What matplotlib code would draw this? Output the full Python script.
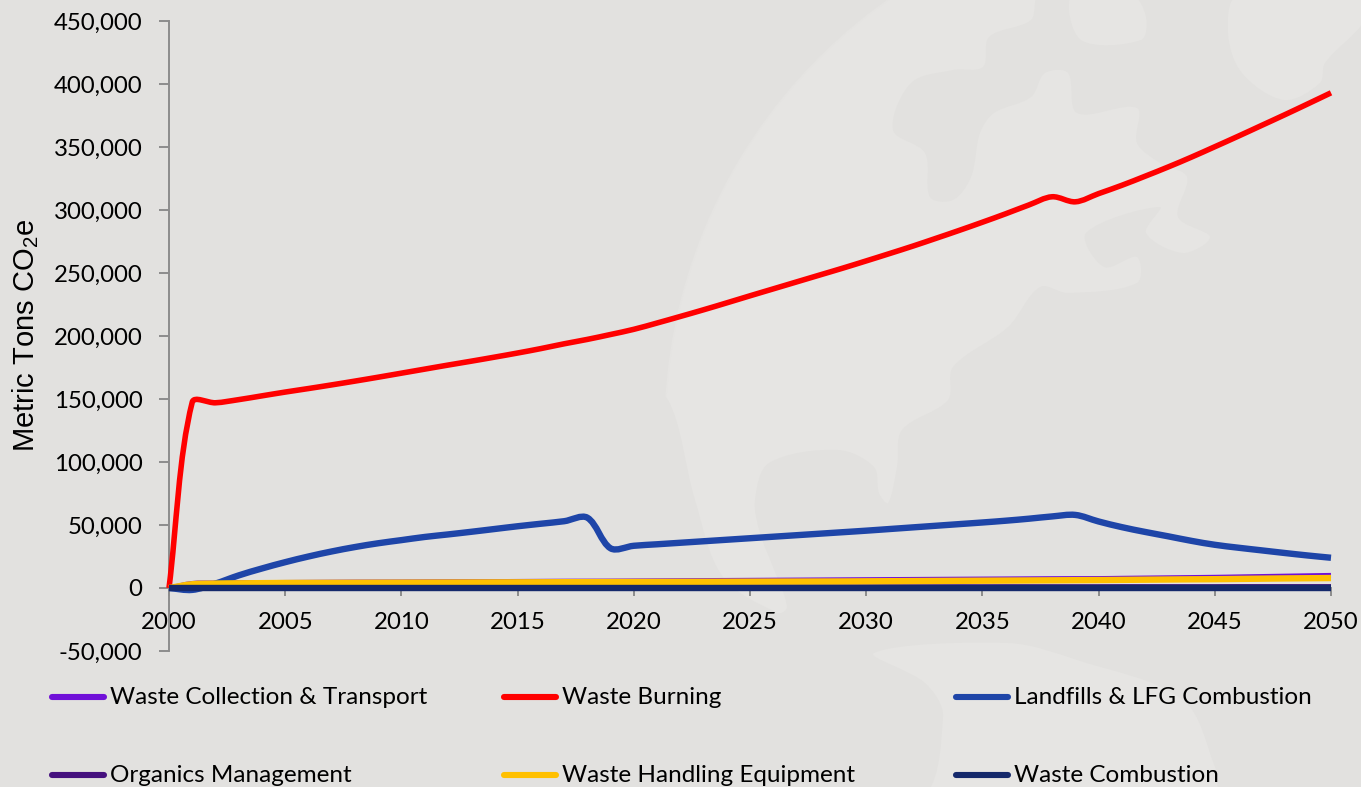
"""Waste sector emissions by source, 2000-2050."""
import numpy as np
import matplotlib
matplotlib.use("Agg")
import matplotlib.pyplot as plt
from matplotlib.lines import Line2D
from matplotlib.patches import Circle, PathPatch
from matplotlib.path import Path

plt.rcParams["font.family"] = ["Lato", "DejaVu Sans"]
plt.rcParams["mathtext.default"] = "regular"

years = list(range(2000, 2051))

waste_collection = [0, 3600, 4000, 4200, 4300, 4400, 4500, 4600, 4700, 4750,
                    4800, 4900, 5000, 5050, 5100, 5200, 5300, 5400, 5450, 5500,
                    5600, 5700, 5800, 5900, 6000, 6100, 6200, 6300, 6400, 6500,
                    6600, 6700, 6800, 6900, 7000, 7100, 7200, 7300, 7400, 7450,
                    7500, 7700, 7900, 8100, 8300, 8500, 8800, 9100, 9400, 9700, 10000]
waste_burning = [0, 147500, 147000, 149500, 152500, 155500, 158300, 161200, 164200, 167300,
                 170500, 173700, 176900, 180000, 183200, 186500, 190000, 193800, 197300, 201200,
                 205300, 210300, 215500, 220800, 226300, 231900, 237400, 242900, 248400, 253900,
                 259600, 265400, 271300, 277500, 283800, 290300, 297000, 304000, 310500, 306500,
                 313000, 319600, 326800, 334200, 342000, 350200, 358500, 367000, 375500, 384200, 393000]
landfills = [0, -1500, 3500, 10000, 15500, 20500, 25000, 29000, 32500, 35500,
             38000, 40500, 42500, 44600, 46800, 49000, 51000, 53000, 55800, 31500,
             33500, 34700, 35900, 37100, 38300, 39500, 40700, 41900, 43100, 44300,
             45500, 46800, 48100, 49400, 50700, 52000, 53400, 55000, 56800, 58000,
             52800, 48300, 44500, 41000, 37400, 34300, 32000, 29900, 27800, 25800, 24000]
organics = [0, 300, 350, 350, 400, 400, 400, 450, 450, 450,
            450, 500, 500, 500, 500, 500, 550, 550, 550, 550,
            550, 600, 600, 600, 600, 600, 650, 650, 650, 650,
            650, 700, 700, 700, 700, 700, 750, 750, 750, 750,
            750, 800, 800, 800, 800, 800, 850, 850, 850, 850, 850]
handling_equipment = [0, 3000, 3500, 3700, 3850, 4000, 4050, 4100, 4150, 4200,
                      4250, 4300, 4350, 4400, 4450, 4500, 4550, 4600, 4650, 4700,
                      4750, 4800, 4850, 4900, 4950, 5000, 5050, 5100, 5150, 5200,
                      5300, 5400, 5500, 5600, 5700, 5800, 5900, 6000, 6100, 6200,
                      6300, 6450, 6600, 6750, 6900, 7000, 7200, 7400, 7600, 7750, 7900]
waste_combustion = [0] * 51

series_names = ["Waste Collection & Transport", "Waste Burning", "Landfills & LFG Combustion",
                "Organics Management", "Waste Handling Equipment", "Waste Combustion"]
series_values = [waste_collection, waste_burning, landfills,
                 organics, handling_equipment, waste_combustion]
series_colors = ["#7010D8", "#FF0000", "#1E45A8", "#45107E", "#FFC000", "#15296B"]
series_widths = [3.6, 4.0, 4.6, 4.1, 4.6, 4.6]

y_ticks = list(range(-50000, 450001, 50000))
x_ticks = list(range(2000, 2051, 5))

BG = "#E2E1DF"
GLOBE = "#E6E5E3"
AXIS = "#8C8C8C"
PX_PER_YEAR = 1162 / 50
PX_PER_TON = 630 / 500000


def smooth_path(x, y, closed=False, sx=1.0, sy=1.0):
    """Spreadsheet style smoothing: control points scale with the chord, measured on screen."""
    pts = np.column_stack([x, y]).astype(float)
    if closed:
        pts = np.vstack([pts[-1], pts, pts[0], pts[1]])
    else:
        pts = np.vstack([pts[0], pts, pts[-1]])
    scale = np.array([sx, sy])
    verts = [pts[1]]
    codes = [Path.MOVETO]
    for i in range(1, len(pts) - 2):
        prev_d = np.linalg.norm((pts[i] - pts[i - 1]) * scale)
        this_d = np.linalg.norm((pts[i + 1] - pts[i]) * scale)
        next_d = np.linalg.norm((pts[i + 2] - pts[i + 1]) * scale)
        out_k = this_d / max(prev_d + this_d, 1e-9) / 3
        in_k = this_d / max(this_d + next_d, 1e-9) / 3
        verts.append(pts[i] + (pts[i + 1] - pts[i - 1]) * out_k)
        verts.append(pts[i + 1] - (pts[i + 2] - pts[i]) * in_k)
        verts.append(pts[i + 1])
        codes += [Path.CURVE4] * 3
    return Path(verts, codes)


fig = plt.figure(figsize=(13.61, 7.87), dpi=100, facecolor=BG)

# faint globe behind everything, drawn in pixel coordinates
bg = fig.add_axes([0, 0, 1, 1], zorder=0)
bg.set_xlim(0, 1361)
bg.set_ylim(787, 0)
bg.axis("off")
bg.add_patch(Circle((1191, 430), 526, fc=GLOBE, ec="#E5E4E2", lw=1))
ocean = [(1040, -5), (1031, 20), (989, 37), (983, 67), (953, 70), (911, 83), (893, 130),
         (925, 153), (930, 197), (953, 200), (971, 177), (980, 133), (994, 113), (1031, 97),
         (1045, 73), (1068, 73), (1077, 113), (1137, 108), (1137, 143), (1160, 163),
         (1187, 177), (1178, 217), (1210, 237), (1183, 253), (1146, 233), (1160, 207),
         (1086, 233), (1104, 267), (1137, 257), (1137, 283), (1068, 293), (1040, 287),
         (1008, 327), (953, 367), (948, 400), (902, 430), (897, 467), (888, 503), (879, 493),
         (874, 467), (838, 450), (769, 463), (755, 500), (760, 533), (773, 567), (787, 607),
         (778, 613), (723, 577), (695, 500), (668, 400), (640, 400), (640, 800), (916, 800),
         (943, 717), (925, 683), (874, 653), (1008, 643), (1077, 660), (1183, 700),
         (1215, 767), (1224, 800), (1370, 800), (1370, -5)]
bg.add_patch(PathPatch(smooth_path(*zip(*ocean), closed=True), fc=BG, ec="none"))
for land in ([(1072, -5), (1081, 40), (1141, 40), (1146, 17), (1132, -5)],
             [(1238, -5), (1228, 33), (1242, 73), (1284, 100), (1320, 83), (1325, 63),
              (1365, 20), (1365, -5)]):
    bg.add_patch(PathPatch(smooth_path(*zip(*land), closed=True), fc=GLOBE, ec="none"))

ax = fig.add_axes([169 / 1361, 1 - 651 / 787, 1162 / 1361, 630 / 787], zorder=1)
ax.patch.set_alpha(0)
ax.set_xlim(2000, 2050)
ax.set_ylim(-50000, 450000)

for values, color, width in zip(series_values, series_colors, series_widths):
    path = smooth_path(years, values, sx=PX_PER_YEAR, sy=PX_PER_TON)
    ax.add_patch(PathPatch(path, fill=False, edgecolor=color, lw=width,
                           capstyle="butt", joinstyle="round", clip_on=False, zorder=3))

ax.spines["top"].set_visible(False)
ax.spines["right"].set_visible(False)
ax.spines["left"].set_color(AXIS)
ax.spines["left"].set_linewidth(1.4)
ax.spines["bottom"].set_position(("data", 0))
ax.spines["bottom"].set_color(AXIS)
ax.spines["bottom"].set_linewidth(1.4)

ax.set_yticks(y_ticks)
ax.set_yticklabels([f"{v:,}" for v in y_ticks])
ax.set_xticks(x_ticks)
ax.tick_params(axis="y", length=7, width=1.4, color=AXIS, labelsize=17.3, pad=12)
ax.tick_params(axis="x", length=6, width=1.4, color=AXIS, labelsize=17.3, pad=11)

fig.text(26 / 1361, 1 - 335 / 787, "Metric Tons CO$_2$e", rotation=90, ha="center", va="center",
         family="Liberation Sans", fontsize=21)

# legend laid out by hand: the columns sit at fixed spots
handle_x = [52, 504, 956]
handle_y = [697, 775]
for i, (name, color) in enumerate(zip(series_names, series_colors)):
    x0 = handle_x[i % 3]
    y0 = handle_y[i // 3]
    fig.add_artist(Line2D([x0 / 1361, (x0 + 52) / 1361], [1 - y0 / 787, 1 - y0 / 787], color=color,
                          lw=4.4, solid_capstyle="round", zorder=2))
    fig.text((x0 + 58) / 1361, 1 - (y0 + 1) / 787, name, va="center", ha="left", fontsize=17.5, zorder=2)

fig.savefig("out.png", dpi=100, facecolor=BG)
